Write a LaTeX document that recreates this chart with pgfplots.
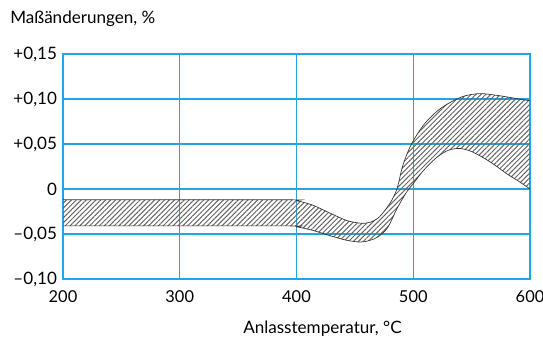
\documentclass[border=0pt]{standalone}
\usepackage{fontspec}
\setmainfont{Lato}
\usepackage{pgfplots}
\pgfplotsset{compat=1.18}
\usepgfplotslibrary{fillbetween}
\usetikzlibrary{patterns.meta,calc}
\definecolor{gridblue}{RGB}{35,165,225}
\begin{document}
\begin{tikzpicture}
\begin{axis}[
  name=ax,
  scale only axis,
  width=350.25pt, height=168.75pt,
  xmin=200, xmax=600, ymin=-0.10, ymax=0.15,
  xtick={200,300,400,500,600},
  ytick={-0.10,-0.05,0,0.05,0.10,0.15},
  yticklabels={{--0,10},{--0,05},{0},{+0,05},{+0,10},{+0,15}},
  xticklabels={200,300,400,500,600},
  major tick length=0pt,
  grid=major,
  grid style={gridblue, line width=0.8pt},
  axis line style={gridblue, line width=0.8pt},
  tick label style={font=\fontsize{12.8}{14}\selectfont},
  xticklabel style={yshift=-5pt, font=\fontsize{12.3}{14}\selectfont},
  yticklabel style={xshift=-1pt},
  axis on top=false,
]
\addplot[name path=up, black!80, line width=0.5pt, smooth, tension=0.5] coordinates {
(200,-0.012) (390,-0.012) (400,-0.013) (414,-0.018) (429,-0.027) (443,-0.035)
(455,-0.038) (463,-0.037) (471,-0.031) (480,-0.016) (486,0.0) (491,0.026)
(497,0.046) (503,0.060) (510,0.073) (520,0.086) (530,0.095) (543,0.103)
(557,0.106) (572,0.104) (586,0.101) (600,0.098)};
\addplot[name path=lo, black!80, line width=0.5pt, smooth, tension=0.5] coordinates {
(200,-0.041) (390,-0.041) (400,-0.042) (414,-0.046) (429,-0.052) (443,-0.057)
(455,-0.059) (463,-0.057) (470,-0.053) (478,-0.043) (486,-0.022) (494,-0.004)
(500,0.006) (509,0.021) (520,0.035) (530,0.043) (540,0.045) (551,0.041)
(566,0.030) (580,0.017) (591,0.008) (600,0.0)};
\addplot[pattern={Lines[angle=45,distance=2.6pt,line width=0.75pt]}, pattern color=black!60, draw=none] fill between[of=up and lo];
\end{axis}
\node[anchor=base west, font=\fontsize{12.8}{14}\selectfont, inner sep=0pt] at ($(ax.north west)+(-39.75pt,22.5pt)$) {Maßänderungen, \%};
\node[anchor=base west, font=\fontsize{12.8}{14}\selectfont, inner sep=0pt] at ($(ax.south west)+(135pt,-41.25pt)$) {Anlasstemperatur, °C};
\pgfresetboundingbox
\path[use as bounding box] ($(ax.south west)+(-47.25pt,-45.75pt)$) rectangle ($(ax.north east)+(9.75pt,40.5pt)$);
\end{tikzpicture}
\end{document}
